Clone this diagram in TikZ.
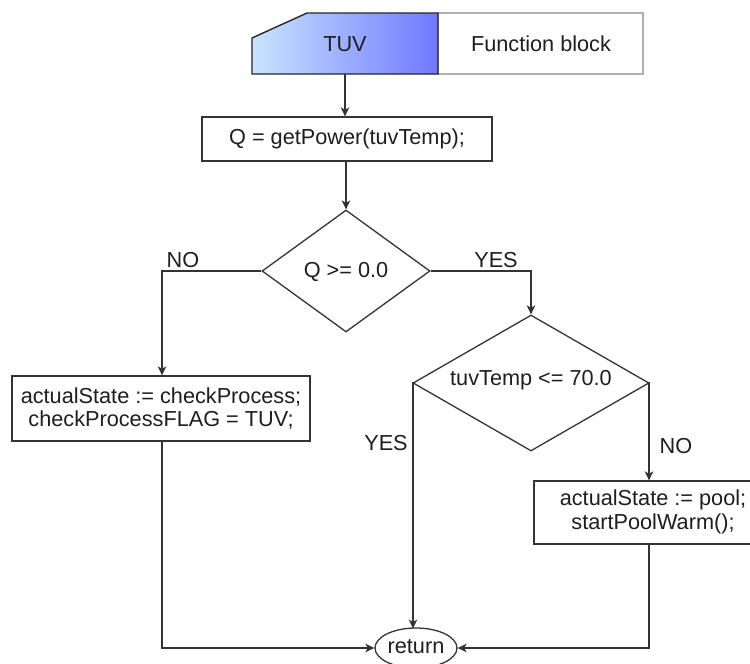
\documentclass[tikz,border=0pt]{standalone}
\usepackage{fontspec}
\setmainfont{Liberation Sans}
\usetikzlibrary{shapes.geometric,arrows.meta}
\definecolor{txt}{HTML}{1E1E1E}
\definecolor{ln}{HTML}{333333}
\definecolor{fbgray}{HTML}{B0B0B0}
\definecolor{blL}{HTML}{C8E4FF}
\definecolor{blR}{HTML}{7078FF}
\tikzset{
  every node/.style={text=txt, font=\fontsize{21.7}{23.5}\selectfont},
  procbox/.style={draw=ln, line width=1.3pt, fill=white, rectangle, inner sep=0pt, align=center},
  decbox/.style={draw=ln, line width=1.3pt, diamond, inner sep=0pt, aspect=1.4},
  conn/.style={draw=ln, line width=1.3pt, -{Stealth[length=9pt,width=8.5pt,inset=2.5pt]}},
  lbl/.style={inner sep=0pt}
}
\begin{document}
\begin{tikzpicture}[x=1pt,y=-1pt]
\clip (0,0) rectangle (750,664);
\fill[white] (0,0) rectangle (750,664);
% function block header
\node[draw=fbgray, line width=1.2pt, rectangle, minimum width=205pt, minimum height=61pt, inner sep=0pt] (fb) at (540.5,43.5) {};
\node[lbl] at (541,44) {Function block};
\path[draw=black!85, line width=1.4pt, left color=blL, right color=blR, shading angle=90]
  (252,38) -- (307,13) -- (438,13) -- (438,74) -- (252,74) -- cycle;
\node[lbl] (tuv) at (345,44) {TUV};
\coordinate (tuvb) at (345,74);
% process
\node[procbox, minimum width=290pt, minimum height=44pt] (q) at (347,139) {Q = getPower(tuvTemp);};
\node[decbox, minimum width=168pt, minimum height=122pt] (d1) at (346,271) {};
\node[lbl] at (346,272) {Q >= 0.0};
\node[decbox, minimum width=236pt, minimum height=136pt] (d2) at (531,383) {};
\node[lbl] at (531,380) {tuvTemp <= 70.0};
\node[procbox, minimum width=298pt, minimum height=65pt] (lb) at (161,408.5) {actualState := checkProcess;\\checkProcessFLAG = TUV;};
\node[procbox, minimum width=240pt, minimum height=63pt] (rbx) at (654,512.5) {};
\node[lbl, align=center] at (653,512) {actualState := pool;\\startPoolWarm();};
\node[draw=ln, line width=1.3pt, ellipse, minimum width=82pt, minimum height=40pt, inner sep=0pt] (ret) at (416,648) {};
\node[lbl] at (416,647) {return};
% connectors
\draw[conn] (tuvb) -- (tuvb |- q.north);
\draw[conn] (q.south -| d1.north) -- (d1.north);
\coordinate (nl) at (162,271);
\draw[conn] (d1.west) -- (nl) -- (nl |- lb.north);
\coordinate (yr) at (531,271);
\draw[conn] (d1.east) -- (yr) -- (d2.north);
\coordinate (yl) at (413,383);
\draw[conn] (d2.west) -- (yl) -- (413,628.5);
\coordinate (nr) at (649,383);
\draw[conn] (d2.east) -- (nr) -- (nr |- rbx.north);
\coordinate (lbot) at (162,648);
\draw[conn] (nl |- lb.south) -- (lbot) -- (ret.west);
\coordinate (rbot) at (649,648);
\draw[conn] (nr |- rbx.south) -- (rbot) -- (ret.east);
% labels
\node[lbl] at (183,260) {NO};
\node[lbl] at (496,260) {YES};
\node[lbl] at (386,443) {YES};
\node[lbl] at (676,446) {NO};
\end{tikzpicture}
\end{document}
